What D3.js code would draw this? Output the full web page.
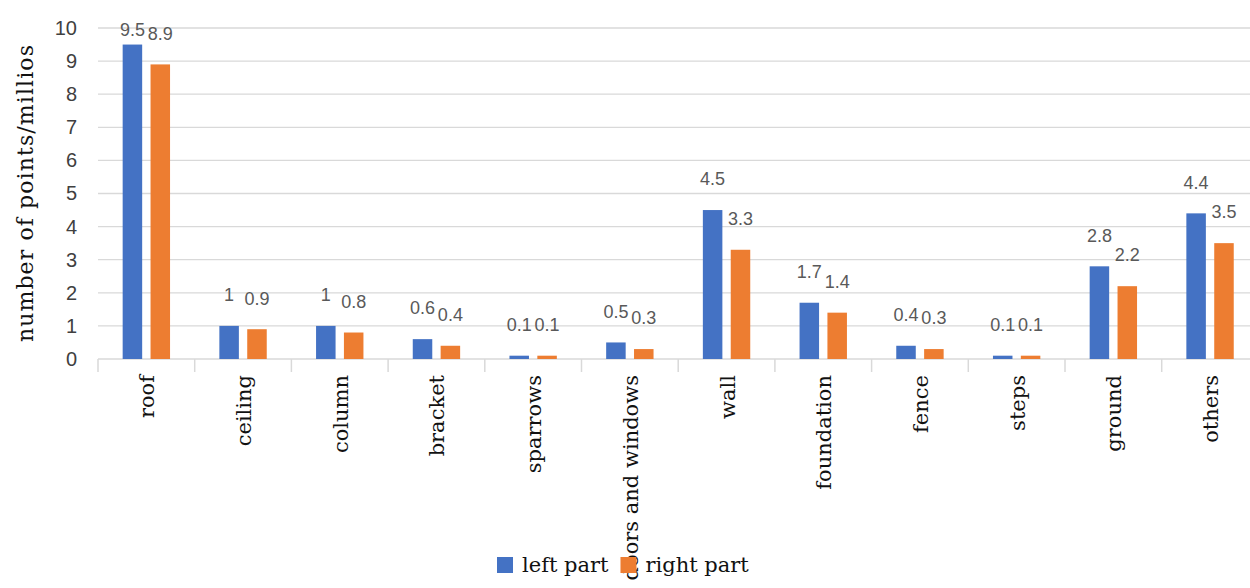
<!DOCTYPE html>
<html>
<head>
<meta charset="utf-8">
<script src="https://cdn.jsdelivr.net/npm/d3@7"></script>
<style>
  body { margin: 0; background: #fff; }
  .graph { width: 1250px; height: 588px; overflow: hidden; }
</style>
</head>
<body>
<div class="graph"></div>
<script>
/*---------- DATA ----------*/
const categories = ["roof", "ceiling", "column", "bracket", "sparrows", "doors and windows",
                    "wall", "foundation", "fence", "steps", "ground", "others"];
const leftPart  = [9.5, 1, 1, 0.6, 0.1, 0.5, 4.5, 1.7, 0.4, 0.1, 2.8, 4.4];
const rightPart = [8.9, 0.9, 0.8, 0.4, 0.1, 0.3, 3.3, 1.4, 0.3, 0.1, 2.2, 3.5];
const seriesNames = ["left part", "right part"];
const yTickValues = [0, 1, 2, 3, 4, 5, 6, 7, 8, 9, 10];
const yTitle = "number of points/millios";

/*---------- D3 STUFF ----------*/
const SIZE = {X: 1250, Y: 588};
const MARGIN = {TOP: 28, LEFT: 98};
const PLOT = {RIGHT: 98 + 12 * 96.7, BOTTOM: 359};
const COLORS = {"left part": "#4472C4", "right part": "#ED7D31"};
const GRID = "#d9d9d9";

const svg = d3.select(".graph").append("svg")
    .attr("width", SIZE.X)
    .attr("height", SIZE.Y);

//scales
const x0 = d3.scaleBand()
    .domain(categories)
    .range([MARGIN.LEFT, PLOT.RIGHT]);

const x1 = d3.scaleBand()
    .domain(seriesNames)
    .range([x0.bandwidth() * 0.255, x0.bandwidth() * 0.745])
    .paddingInner(0.3);

const y = d3.scaleLinear()
    .domain([0, 10])
    .range([PLOT.BOTTOM, MARGIN.TOP]);

//gridlines
svg.append("g")
    .selectAll("line")
    .data(yTickValues.filter(d => d > 0))
    .join("line")
    .attr("x1", MARGIN.LEFT)
    .attr("x2", PLOT.RIGHT)
    .attr("y1", d => y(d))
    .attr("y2", d => y(d))
    .attr("stroke", GRID)
    .attr("stroke-width", 1.3);

//y axis (labels only)
const yAxis = svg.append("g")
    .attr("transform", `translate(${MARGIN.LEFT - 21}, 0)`)
    .call(d3.axisLeft(y).tickValues(yTickValues).tickSize(0).tickPadding(0));
yAxis.select(".domain").remove();
yAxis.selectAll("text")
    .attr("font-family", "'Liberation Sans', Arial, sans-serif")
    .attr("font-size", 20)
    .attr("fill", "#404040");

//x axis baseline and category ticks
const xAxis = svg.append("g")
    .attr("transform", `translate(0, ${PLOT.BOTTOM})`);
xAxis.append("line")
    .attr("x1", MARGIN.LEFT).attr("x2", PLOT.RIGHT)
    .attr("stroke", GRID).attr("stroke-width", 1.5);
xAxis.selectAll(".tick")
    .data(categories)
    .join("line")
    .attr("class", "tick")
    .attr("x1", d => x0(d)).attr("x2", d => x0(d))
    .attr("y1", 0).attr("y2", 13)
    .attr("stroke", GRID).attr("stroke-width", 1.5);

//category labels
svg.append("g")
    .selectAll("text")
    .data(categories)
    .join("text")
    .attr("transform", d => `translate(${x0(d) + x0.bandwidth() / 2 + 8}, 375) rotate(-90)`)
    .attr("text-anchor", "end")
    .attr("font-family", "'DejaVu Serif', serif")
    .attr("font-size", 21)
    .attr("fill", "#111")
    .text(d => d);

//bars
const rows = categories.map((c, i) => ({cat: c, vals: [
    {name: seriesNames[0], value: leftPart[i]},
    {name: seriesNames[1], value: rightPart[i]}]}));

const groups = svg.append("g")
    .selectAll("g")
    .data(rows)
    .join("g")
    .attr("transform", d => `translate(${x0(d.cat)}, 0)`);

groups.selectAll("rect")
    .data(d => d.vals)
    .join("rect")
    .attr("x", d => x1(d.name))
    .attr("width", x1.bandwidth())
    .attr("y", d => y(d.value))
    .attr("height", d => y(0) - y(d.value))
    .attr("fill", d => COLORS[d.name]);

//value labels (kept inside the plot area at the top)
groups.selectAll("text")
    .data(d => d.vals)
    .join("text")
    .attr("x", d => x1(d.name) + x1.bandwidth() / 2)
    .attr("y", d => Math.max(y(d.value) - 31, y(10) + 2))
    .attr("dy", "0.35em")
    .attr("text-anchor", "middle")
    .attr("font-family", "'Liberation Sans', Arial, sans-serif")
    .attr("font-size", 18)
    .attr("fill", "#595959")
    .text(d => d.value);

//y title
svg.append("text")
    .attr("transform", `translate(33, 193) rotate(-90)`)
    .attr("text-anchor", "middle")
    .attr("font-family", "'DejaVu Serif', serif")
    .attr("font-size", 22)
    .attr("letter-spacing", 1.1)
    .attr("fill", "#111")
    .text(yTitle);

//legend
const legend = svg.append("g").attr("transform", "translate(497, 557)");
let lx = 0;
seriesNames.forEach(name => {
    legend.append("rect")
        .attr("x", lx).attr("y", 0)
        .attr("width", 16).attr("height", 16)
        .attr("fill", COLORS[name]);
    const t = legend.append("text")
        .attr("x", lx + 25).attr("y", 15)
        .attr("font-family", "'DejaVu Serif', serif")
        .attr("font-size", 21)
        .attr("fill", "#111")
        .text(name);
    lx += 25 + t.node().getComputedTextLength() + 12;
});
</script>
</body>
</html>
